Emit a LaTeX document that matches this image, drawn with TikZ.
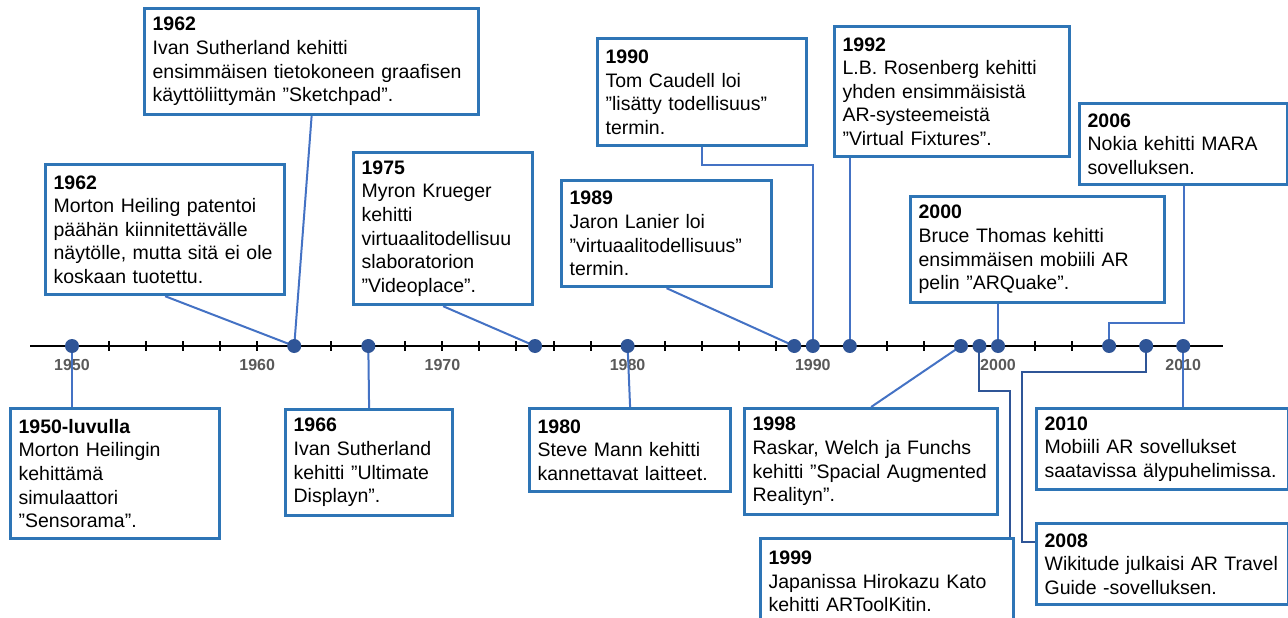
\documentclass[tikz,border=0pt]{standalone}
\usepackage{fontspec}
\setmainfont{Liberation Sans}
\usetikzlibrary{positioning}
\definecolor{boxblue}{HTML}{2E75B6}
\definecolor{linkblue}{HTML}{4472C4}
\definecolor{dotblue}{HTML}{2F5597}
\definecolor{yeargrey}{HTML}{595959}
\tikzset{font=\fontsize{19.5}{23.6}\selectfont}

\begin{document}
\begin{tikzpicture}[x=1pt,y=-1pt,
    event/.style={draw=boxblue,line width=3.2pt,fill=white,anchor=north west,align=left,inner xsep=8pt,inner ysep=0pt},
    link/.style={draw=linkblue,line width=2pt},
    linkdark/.style={draw=dotblue,line width=2pt},
    evdot/.style={circle,fill=dotblue,minimum size=14pt,inner sep=0pt},
    yearlabel/.style={font=\bfseries\fontsize{16}{18}\selectfont,text=yeargrey,inner sep=0pt}]
    \useasboundingbox (0,0) rectangle (1288,618);

    % axis
    \draw[line width=2.8pt] (30,346) -- (1223,346);
    \foreach \t in {1952,1954,...,2008}
      \draw[line width=2pt] ({72+18.52*(\t-1950)},341) -- ({72+18.52*(\t-1950)},351);
    \foreach \t in {1950,1960,...,2010}
      \node[yearlabel] (l\t) at ({72+18.52*(\t-1950)},365) {\t};
    \foreach \y in {1950,1962,1966,1975,1980,1989,1990,1992,1998,1999,2000,2006,2008,2010}
      \coordinate (d\y) at ({72+18.52*(\y-1950)},346);

    % above the axis
    \node[event,text width=318pt,minimum width=334pt,minimum height=106pt] (bA) at (143,7) {\textbf{1962}\\Ivan Sutherland kehitti\\ensimmäisen tietokoneen graafisen\\käyttöliittymän ”Sketchpad”.};
    \node[event,text width=223pt,minimum width=239pt,minimum height=130pt] (bB) at (44,163) {\textbf{1962}\\Morton Heiling patentoi\\päähän kiinnitettävälle\\näytölle, mutta sitä ei ole\\koskaan tuotettu.};
    \node[event,text width=163pt,minimum width=179pt,minimum height=152pt] (bC) at (352,151) {\textbf{1975}\\Myron Krueger\\kehitti\\virtuaalitodellisuu\\slaboratorion\\”Videoplace”.};
    \node[event,text width=193pt,minimum width=209pt,minimum height=107pt] (bD) at (596,37) {\textbf{1990}\\Tom Caudell loi\\”lisätty todellisuus”\\termin.};
    \node[event,text width=194pt,minimum width=210pt,minimum height=106pt] (bE) at (560,179) {\textbf{1989}\\Jaron Lanier loi\\”virtuaalitodellisuus”\\termin.};
    \node[event,text width=219pt,minimum width=235pt,minimum height=130pt] (bF) at (833,25) {\textbf{1992}\\L.B. Rosenberg kehitti\\yhden ensimmäisistä\\AR-systeemeistä\\”Virtual Fixtures”.};
    \node[event,text width=192pt,minimum width=208pt,minimum height=81pt] (bG) at (1078,102) {\textbf{2006}\\Nokia kehitti MARA\\sovelluksen.};
    \node[event,text width=238pt,minimum width=254pt,minimum height=106pt] (bH) at (909,195) {\textbf{2000}\\Bruce Thomas kehitti\\ensimmäisen mobiili AR\\pelin ”ARQuake”.};

    % below the axis
    \node[event,text width=193pt,minimum width=209pt,minimum height=130pt] (bI) at (9,407) {\textbf{1950-luvulla}\\Morton Heilingin\\kehittämä\\simulaattori\\”Sensorama”.};
    \node[event,text width=151pt,minimum width=167pt,minimum height=106pt] (bJ) at (284,408) {\textbf{1966}\\Ivan Sutherland\\kehitti ”Ultimate\\Displayn”.};
    \node[event,text width=185pt,minimum width=201pt,minimum height=83pt] (bK) at (528,407) {\textbf{1980}\\Steve Mann kehitti\\kannettavat laitteet.};
    \node[event,text width=237pt,minimum width=253pt,minimum height=106pt] (bL) at (743,407) {\textbf{1998}\\Raskar, Welch ja Funchs\\kehitti ”Spacial Augmented\\Realityn”.};
    \node[event,text width=237pt,minimum width=253pt,minimum height=86pt] (bM) at (759,537) {\textbf{1999}\\Japanissa Hirokazu Kato\\kehitti ARToolKitin.};
    \node[event,text width=236pt,minimum width=252pt,minimum height=81pt] (bN) at (1035,407) {\textbf{2010}\\Mobiili AR sovellukset\\saatavissa älypuhelimissa.};
    \node[event,text width=236pt,minimum width=252pt,minimum height=81pt] (bO) at (1035,522) {\textbf{2008}\\Wikitude julkaisi AR Travel\\Guide -sovelluksen.};

    \draw[link] (bA.south) -- (d1962);
    \draw[link] (bB.south) -- (d1962);
    \draw[link] (bC.south) -- (d1975);
    \draw[link] (bD.south) -- ++(0,18) -| (d1990);
    \draw[link] (bE.south) -- (d1989);
    \draw[link] (bF.south -| d1992) -- (d1992);
    \draw[link] (bG.south) -- ++(0,137) -| (d2006);
    \draw[link] (bH.south -| d2000) -- (d2000);
    \draw[link] (d1950) -- (d1950 |- bI.north);
    \draw[link] (d1966) -- (bJ.north);
    \draw[link] (d1980) -- (bK.north);
    \draw[link] (bL.north) -- (d1998);
    \draw[linkdark] (d1999) -- ++(0,45) -| ([xshift=-5pt]bM.north east);
    \draw[linkdark] (d2008) -- ++(0,26) -| ([xshift=-13pt,yshift=-20pt]bO.north west) -- ([yshift=-20pt]bO.north west);
    \draw[link] (d2010) -- (d2010 |- bN.north);

    \foreach \y in {1950,1962,1966,1975,1980,1989,1990,1992,1998,1999,2000,2006,2008,2010}
      \node[evdot] (p\y) at (d\y) {};
\end{tikzpicture}
\end{document}
